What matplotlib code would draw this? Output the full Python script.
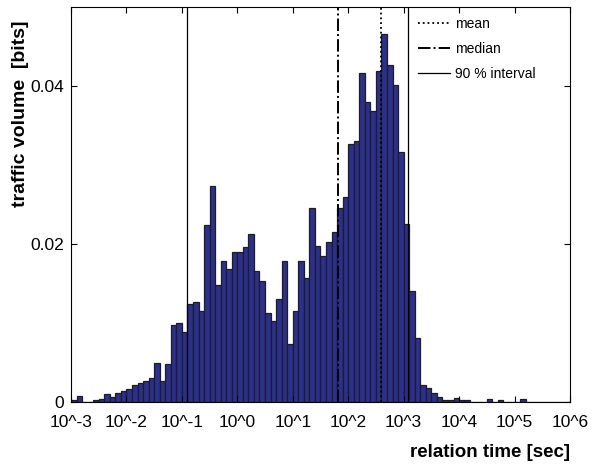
import numpy as np
import matplotlib
matplotlib.use("Agg")
import matplotlib.pyplot as plt

# histogram of relation times, 10 log bins per decade from 10^-3 to 10^6
bin_edges_exp = np.arange(-3.0, 6.01, 0.1)
volume = [
    0.0002, 0.0008, 0.0, 0.0, 0.0002, 0.0004, 0.0010, 0.0006, 0.0011, 0.0014,
    0.0016, 0.0021, 0.0024, 0.0027, 0.0031, 0.0049, 0.0027, 0.0048, 0.0097, 0.0100,
    0.0088, 0.0124, 0.0126, 0.0115, 0.0224, 0.0273, 0.0148, 0.0179, 0.0169, 0.0190,
    0.0190, 0.0196, 0.0213, 0.0166, 0.0153, 0.0113, 0.0103, 0.0130, 0.0179, 0.0074,
    0.0115, 0.0179, 0.0157, 0.0246, 0.0198, 0.0185, 0.0203, 0.0215, 0.0246, 0.0259,
    0.0326, 0.0331, 0.0416, 0.0380, 0.0369, 0.0419, 0.0466, 0.0426, 0.0401, 0.0316,
    0.0225, 0.0140, 0.0081, 0.0022, 0.0018, 0.0012, 0.0006, 0.0003, 0.0003, 0.0005,
    0.0003, 0.0002, 0.0, 0.0, 0.0, 0.0004, 0.0, 0.0003, 0.0, 0.0,
    0.0, 0.0004, 0.0, 0.0, 0.0, 0.0, 0.0, 0.0, 0.0, 0.0,
]

mean_t = 10 ** 2.59
median_t = 10 ** 1.816
interval = [10 ** -0.91, 10 ** 3.08]

tick_exp = list(range(-3, 7))
tick_labels = ["10^%d" % e for e in tick_exp]

plt.rcParams['font.family'] = ['Liberation Sans', 'DejaVu Sans']

fig = plt.figure(figsize=(5.93, 4.68), dpi=100)
ax = fig.add_axes([0.1197, 0.141, 0.8415, 0.844])

edges = 10.0 ** bin_edges_exp
ax.bar(edges[:-1], volume, width=np.diff(edges), align='edge',
       color='#2b2f8f', edgecolor='#1e1e1e', linewidth=0.9)

ax.axvline(mean_t, color='black', linestyle=':', linewidth=1.3, label='mean')
ax.axvline(median_t, color='black', linestyle='-.', linewidth=1.4, label='median')
ax.axvline(interval[0], color='black', linestyle='-', linewidth=0.9, label='90 % interval')
ax.axvline(interval[1], color='black', linestyle='-', linewidth=0.9)

ax.set_xscale('log')
ax.set_xlim(1e-3, 1e6)
ax.set_ylim(0, 0.05)
ax.set_xticks([10.0 ** e for e in tick_exp])
ax.set_xticklabels(tick_labels)
ax.xaxis.set_minor_locator(matplotlib.ticker.NullLocator())
ax.set_yticks([0, 0.02, 0.04])
ax.set_yticklabels(['0', '0.02', '0.04'])
ax.tick_params(direction='in', top=True, right=True, labelsize=12.5, length=4)
ax.tick_params(axis='x', pad=9)
ax.tick_params(axis='y', pad=5)

leg = ax.legend(loc='upper left', bbox_to_anchor=(0.695, 0.975), frameon=False,
                fontsize=10, handlelength=2.3, handletextpad=0.4,
                borderpad=0, borderaxespad=0, labelspacing=0.8)

fig.text(0.9612, 0.034, 'relation time [sec]', ha='right', va='center',
         fontsize=13.5, fontweight='bold')
fig.text(0.034, 0.758, 'traffic volume  [bits]', ha='center', va='center',
         rotation=90, fontsize=14, fontweight='bold')

fig.savefig('out.png', dpi=100)
